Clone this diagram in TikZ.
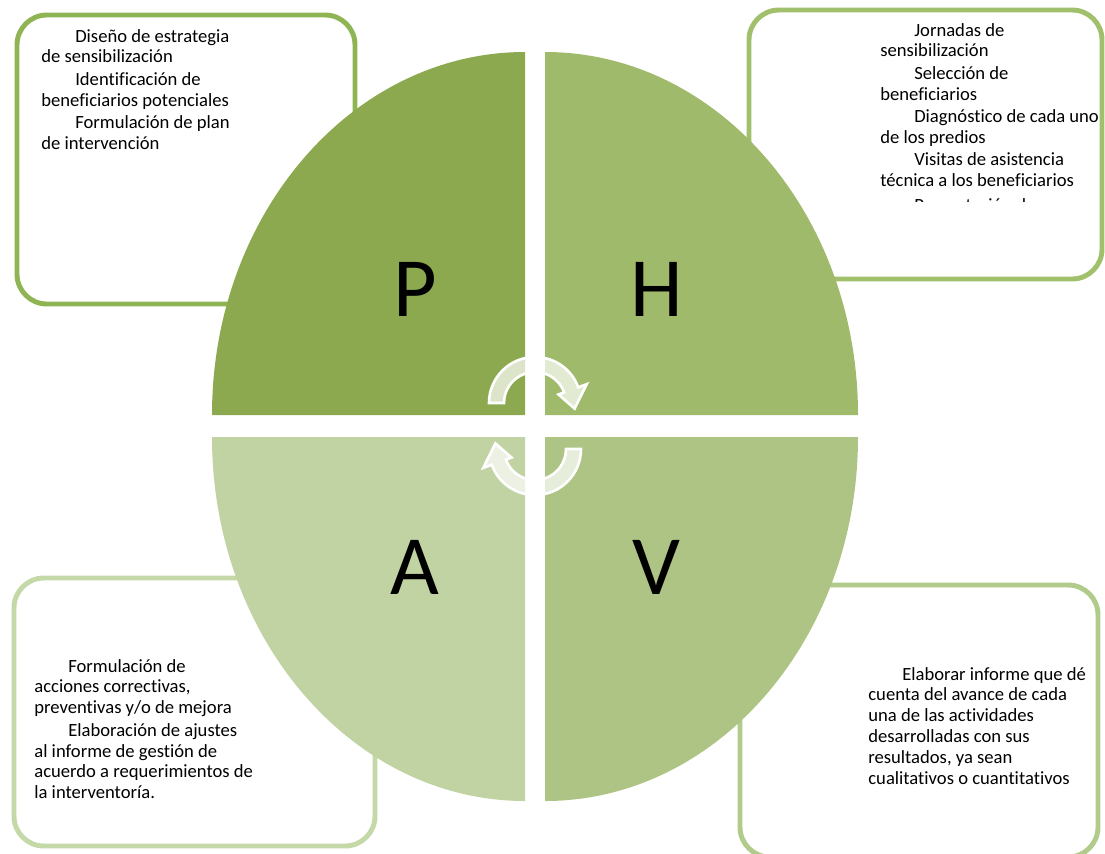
\documentclass[tikz,border=0pt]{standalone}
\usepackage{fontspec}
\setmainfont{Carlito}[Ligatures=CommonOff]

\definecolor{verdeP}{RGB}{140,169,80}
\definecolor{verdeH}{RGB}{159,186,106}
\definecolor{verdeV}{RGB}{174,196,133}
\definecolor{verdeA}{RGB}{193,211,163}
\definecolor{bordeP}{RGB}{143,180,83}
\definecolor{bordeH}{RGB}{160,192,107}
\definecolor{bordeV}{RGB}{177,203,138}
\definecolor{bordeA}{RGB}{196,216,168}

\newcommand{\sangria}{\hspace*{19.3pt}}

\begin{document}
\begin{tikzpicture}[x=0.02cm, y=-0.02cm,
    caja/.style={line width=2.8pt, rounded corners=17pt},
    letra/.style={font=\fontsize{48}{48}\selectfont, anchor=base, inner sep=0pt},
    texto/.style={anchor=base west, inner sep=0pt, font=\fontsize{10.6}{11.9}\selectfont},
    flecha/.style={fill=white, fill opacity=0.7, draw=white, line width=1.5pt}]
\clip (0,0) rectangle (1105,853);

% cajas de texto
\draw[caja, draw=bordeP] (17,15) rectangle (355,304);
\draw[caja, draw=bordeH] (749,10) rectangle (1102,279);
\draw[caja, draw=bordeA] (14,578) rectangle (375,846);
\draw[caja, draw=bordeV] (740,585) rectangle (1098,857);

% cuadrantes
\fill[verdeP] (525,415) -- (212,415) arc[start angle=180, end angle=270, x radius=313, y radius=363] -- cycle;
\fill[verdeH] (545,415) -- (858,415) arc[start angle=0, end angle=-90, x radius=313, y radius=363] -- cycle;
\fill[verdeA] (525,437) -- (212,437) arc[start angle=180, end angle=90, x radius=313, y radius=364] -- cycle;
\fill[verdeV] (545,437) -- (858,437) arc[start angle=0, end angle=90, x radius=313, y radius=364] -- cycle;

% flechas del ciclo
\begin{scope}[shift={(535,403)}]
    \draw[flecha] (180:46) arc[start angle=180, end angle=340, radius=46] -- (340:55)
        -- (8:40) -- (340:25) -- (340:31) arc[start angle=340, end angle=180, radius=31] -- cycle;
\end{scope}
\begin{scope}[shift={(535,449)}]
    \draw[flecha] (0:46) arc[start angle=0, end angle=160, radius=46] -- (160:55)
        -- (188:40) -- (160:25) -- (160:31) arc[start angle=160, end angle=0, radius=31] -- cycle;
\end{scope}

% letras
\node[letra] (P) at (415,316) {P};
\node[letra] (H) at (657,316) {H};
\node[letra] (A) at (415,594) {A};
\node[letra] (V) at (656,594) {V};

% textos
\node[texto] (planear) at (41,42) {\parbox[t]{220pt}{%
    \sangria Diseño de estrategia\\ de sensibilización\\[0.8pt]
    \sangria Identificación de\\ beneficiarios potenciales\\[0.8pt]
    \sangria Formulación de plan\\ de intervención}};
\node[texto] (hacer) at (880,36) {\parbox[t]{220pt}{%
    \sangria Jornadas de\\ sensibilización\\[0.8pt]
    \sangria Selección de\\ beneficiarios\\[0.8pt]
    \sangria Diagnóstico de cada uno\\ de los predios\\[0.8pt]
    \sangria Visitas de asistencia\\ técnica a los beneficiarios}};
\begin{scope}
    \clip (870,150) rectangle (1100,201);
    \node[texto] (hacerfin) at (880,211) {\parbox[t]{220pt}{\sangria Presentación de}};
\end{scope}
\node[texto] (actuar) at (34,672) {\parbox[t]{220pt}{%
    \sangria Formulación de\\ acciones correctivas,\\ preventivas y/o de mejora\\[0.8pt]
    \sangria Elaboración de ajustes\\ al informe de gestión de\\ acuerdo a requerimientos de\\ la interventoría.}};
\node[texto] (verificar) at (868,680) {\parbox[t]{220pt}{%
    \sangria Elaborar informe que dé\\ cuenta del avance de cada\\ una de las actividades\\
    desarrolladas con sus\\ resultados, ya sean\\ cualitativos o cuantitativos}};
\end{tikzpicture}
\end{document}
